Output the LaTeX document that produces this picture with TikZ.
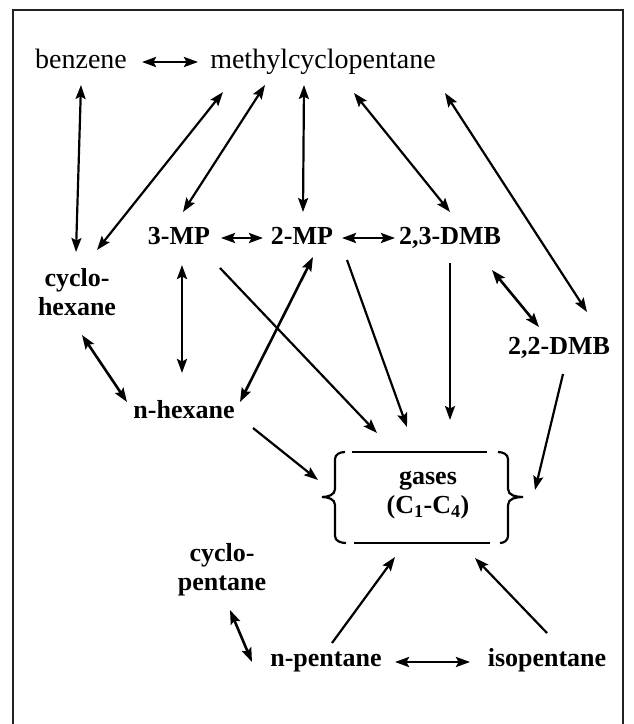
\documentclass[tikz,border=0pt]{standalone}
\usepackage{fontspec}
\setmainfont{Liberation Serif}
\usepackage{xcolor}
\usepackage{tikz}
\usetikzlibrary{arrows.meta}
\definecolor{inkmain}{HTML}{000000}
\definecolor{framegray}{HTML}{222222}
\tikzset{
  cpd/.style={font=\bfseries\fontsize{26}{28}\selectfont,inner sep=0pt,text height=18pt,text depth=6pt},
  cpdtwo/.style={font=\bfseries\fontsize{26}{29}\selectfont,inner sep=0pt,align=center},
  cpdtop/.style={font=\fontsize{28}{30}\selectfont,inner sep=0pt,text height=19pt,text depth=6pt},
  rx/.style={inkmain,line width=2.2pt},
  rxeq/.style={inkmain,<->,line width=2.6pt},
}

\begin{document}
\begin{tikzpicture}[x=1pt,y=-1pt,>={Stealth[length=14pt,width=10pt,inset=2.5pt]}]
  \useasboundingbox (0,0) rectangle (633,724);
  \draw[framegray,line width=2pt] (13,724) -- (13,10) -- (623,10) -- (623,724);
  \node[cpdtop] (benz) at (81,62) {benzene};
  \node[cpdtop] (mcp) at (323,62) {methylcyclopentane};
  \node[cpdtwo] (chex) at (77,292) {cyclo-\\hexane};
  \node[cpd] (mp3) at (179,238) {3-MP};
  \node[cpd] (mp2) at (302,238) {2-MP};
  \node[cpd] (dmb23) at (450,238) {2,3-DMB};
  \node[cpd] (dmb22) at (559,348) {2,2-DMB};
  \node[cpd] (nhex) at (184,412) {n-hexane};
  \node[cpdtwo] (gas) at (428,495) {gases\\(C\textsubscript{1}-C\textsubscript{4})};
  \node[cpdtwo] (cpen) at (222,570) {cyclo-\\pentane};
  \node[cpd] (npen) at (326,660) {n-pentane};
  \node[cpd] (ipen) at (547,660) {isopentane};
  \draw[inkmain,line width=2.2pt] (345,452) to[out=180,in=90] (335,459) -- (335,489)
    to[out=-90,in=0] (322,497) to[out=0,in=90] (335,505) -- (335,536)
    to[out=-90,in=180] (346,543);
  \draw[inkmain,line width=2.2pt] (498,452) to[out=0,in=90] (508,459) -- (508,489)
    to[out=-90,in=180] (523,497) to[out=180,in=90] (508,505) -- (508,536)
    to[out=-90,in=0] (500,543);
  \draw[inkmain,line width=2.2pt] (352,452) -- (487,452);
  \draw[inkmain,line width=2.2pt] (354,543) -- (490,543);
  \draw[rxeq] ([shift={(61,0)}]benz.center) -- ([shift={(-125,0)}]mcp.center);
  \draw[rx,<->] ([shift={(0,23)}]benz.center) -- ([shift={(-1,-40)}]chex.center);
  \draw[rx,<->] ([shift={(-100,30)}]mcp.center) -- ([shift={(20,-42)}]chex.center);
  \draw[rx,<->] ([shift={(-58,23)}]mcp.center) -- ([shift={(4,-26)}]mp3.center);
  \draw[rx,<->] ([shift={(-19,23)}]mcp.center) -- ([shift={(1,-26)}]mp2.center);
  \draw[rx,<->] ([shift={(31,31)}]mcp.center) -- ([shift={(0,-26)}]dmb23.center);
  \draw[rx,<->] ([shift={(122,31)}]mcp.center) -- ([shift={(28,-36)}]dmb22.center);
  \draw[rxeq] ([shift={(42,0)}]mp3.center) -- ([shift={(-39,0)}]mp2.center);
  \draw[rxeq] ([shift={(40,0)}]mp2.center) -- ([shift={(-55,0)}]dmb23.center);
  \draw[rxeq] ([shift={(3,27)}]mp3.center) -- ([shift={(-2,-39)}]nhex.center);
  \draw[rxeq] ([shift={(5,43)}]chex.center) -- ([shift={(-57,-10)}]nhex.center);
  \draw[rxeq] ([shift={(11,19)}]mp2.center) -- ([shift={(56,-10)}]nhex.center);
  \draw[rx,->] ([shift={(41,30)}]mp3.center) -- ([shift={(-51,-62)}]gas.center);
  \draw[rx,->] ([shift={(45,22)}]mp2.center) -- ([shift={(-21,-68)}]gas.center);
  \draw[rx,->] ([shift={(0,25)}]dmb23.center) -- ([shift={(22,-75)}]gas.center);
  \draw[rxeq] ([shift={(42,32)}]dmb23.center) -- ([shift={(-20,-21)}]dmb22.center);
  \draw[rx,->] ([shift={(4,26)}]dmb22.center) -- ([shift={(107,-5)}]gas.center);
  \draw[rx,->] ([shift={(69,16)}]nhex.center) -- ([shift={(-110,-15)}]gas.center);
  \draw[rxeq] ([shift={(8,40)}]cpen.center) -- ([shift={(-74,2)}]npen.center);
  \draw[rxeq] ([shift={(69,2)}]npen.center) -- ([shift={(-77,2)}]ipen.center);
  \draw[rx,->] ([shift={(6,-17)}]npen.center) -- ([shift={(-33,62)}]gas.center);
  \draw[rx,->] ([shift={(0,-27)}]ipen.center) -- ([shift={(47,63)}]gas.center);
\end{tikzpicture}
\end{document}
